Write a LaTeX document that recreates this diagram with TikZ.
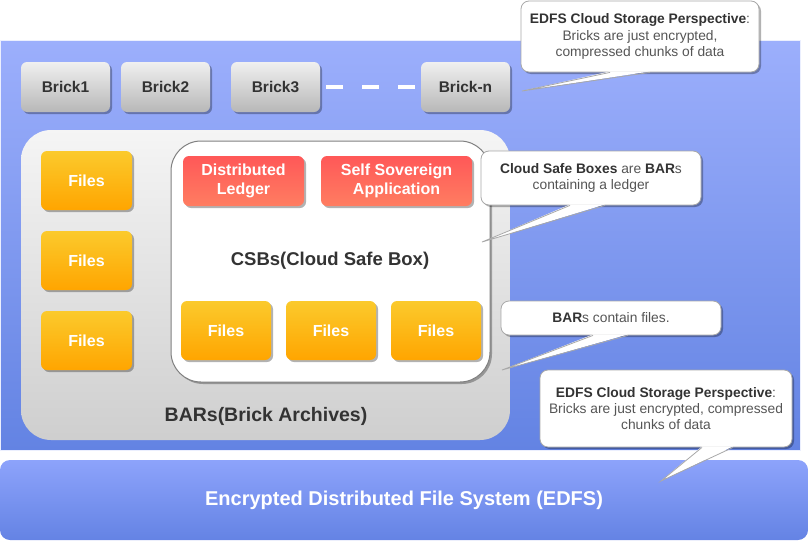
\documentclass[tikz,border=0pt]{standalone}
\usepackage{fontspec}
\setmainfont{Liberation Sans}
\usetikzlibrary{shadows}
\definecolor{bgtop}{HTML}{9CAFFC}
\definecolor{bgbot}{HTML}{6383E3}
\definecolor{edtop}{HTML}{8DA3FB}
\definecolor{edbot}{HTML}{6483E4}
\definecolor{txt}{HTML}{333333}
\definecolor{ctxt}{HTML}{555555}
\definecolor{filetop}{HTML}{FBCA2C}
\definecolor{filebot}{HTML}{FFA500}
\definecolor{redtop}{HTML}{FF5858}
\definecolor{redbot}{HTML}{FF7D61}
\definecolor{cborder}{HTML}{A8A8A8}
\tikzset{
  myshadow/.style={drop shadow={shadow xshift=2pt,shadow yshift=-2pt,fill=black,opacity=0.3}},
  brickbox/.style={rounded corners=6pt,top color=white!94!black,bottom color=white!72!black,
    minimum width=89pt,minimum height=50pt,inner sep=0pt,myshadow,
    font=\fontsize{15.5}{18}\selectfont\bfseries,text=txt},
  filebox/.style={rounded corners=6pt,top color=filetop,bottom color=filebot,
    minimum width=91pt,minimum height=59pt,inner sep=0pt,myshadow,
    font=\fontsize{16}{18}\selectfont\bfseries,text=white},
  redbox/.style={rounded corners=6pt,top color=redtop,bottom color=redbot,
    minimum height=50pt,inner sep=0pt,myshadow,align=center,
    font=\fontsize{16}{19}\selectfont\bfseries,text=white},
  callout/.style={rounded corners=8pt,fill=white,draw=cborder,line width=0.8pt,
    inner sep=0pt,align=center,text=ctxt,myshadow,
    font=\fontsize{13.8}{16.3}\selectfont},
  ptrfill/.style={fill=white},
  ptrline/.style={draw=cborder,line width=0.8pt},
}
\begin{document}
\begin{tikzpicture}[x=1pt,y=-1pt]
\useasboundingbox (0,0) rectangle (809,541);
% main blue background
\node[top color=bgtop,bottom color=bgbot,minimum width=800pt,minimum height=410pt,inner sep=0pt,
  draw=white!80!bgtop,line width=0.6pt] (bg) at (400,245) {};
% EDFS bar
\node[rounded corners=10pt,top color=edtop,bottom color=edbot,minimum width=808pt,minimum height=80pt,
  inner sep=0pt,text=white,font=\fontsize{20}{24}\selectfont\bfseries] (edfs) at (404,500)
  {Encrypted Distributed File System (EDFS)};
% bricks
\node[brickbox] (b1) at (65.5,87) {Brick1};
\node[brickbox] (b2) at (165.5,87) {Brick2};
\node[brickbox] (b3) at (275.5,87) {Brick3};
\node[brickbox] (bn) at (465.5,87) {Brick-n};
\draw[white,line width=4pt,dash pattern=on 17pt off 19pt,shorten <=6pt,shorten >=6pt] (b3.east) -- (bn.west);
% BARs box
\node[rounded corners=30pt,top color=white!96!black,bottom color=white!81!black,
  minimum width=489pt,minimum height=310pt,inner sep=0pt] (bars) at (265.5,285) {};
\node[font=\fontsize{19.5}{22}\selectfont\bfseries,text=txt] (barslabel) at (266,416) {BARs(Brick Archives)};
% left files
\node[filebox] (f1) at (86.5,180.5) {Files};
\node[filebox] (f2) at (86.5,260.5) {Files};
\node[filebox] (f3) at (86.5,340.5) {Files};
% CSB box
\node[rounded corners=30pt,fill=white,draw=black!50,line width=1pt,myshadow,
  minimum width=319pt,minimum height=241pt,inner sep=0pt] (csb) at (330.5,261.5) {};
\node[font=\fontsize{18.5}{22}\selectfont\bfseries,text=txt] (csblabel) at (330,261) {CSBs(Cloud Safe Box)};
\node[redbox,minimum width=121pt] (dl) at (243.5,181) {Distributed\\Ledger};
\node[redbox,minimum width=151pt] (ssa) at (396.5,181) {Self Sovereign\\Application};
\node[filebox,minimum width=90pt] (f4) at (226,330.5) {Files};
\node[filebox,minimum width=90pt] (f5) at (331,330.5) {Files};
\node[filebox,minimum width=90pt] (f6) at (436,330.5) {Files};
% callout 1
\node[callout,minimum width=238pt,minimum height=71pt] (c1) at (640,36.5)
  {\textcolor{txt}{\bfseries EDFS Cloud Storage Perspective}:\\Bricks are just encrypted,\\compressed chunks of data};
\coordinate (t1) at (522,91);
\fill[ptrfill] ([xshift=-30pt,yshift=1pt]c1.south) -- (t1) -- ([xshift=10pt,yshift=1pt]c1.south) -- cycle;
\draw[ptrline] ([xshift=-30pt]c1.south) -- (t1) -- ([xshift=10pt]c1.south);
% callout 2
\node[callout,minimum width=220pt,minimum height=54pt] (c2) at (591,178)
  {\textcolor{txt}{\bfseries Cloud Safe Boxes} are \textcolor{txt}{\bfseries BAR}s\\containing a ledger};
\coordinate (t2) at (482,242);
\fill[ptrfill] ([xshift=-21pt,yshift=1pt]c2.south) -- (t2) -- ([xshift=14pt,yshift=1pt]c2.south) -- cycle;
\draw[ptrline] ([xshift=-21pt]c2.south) -- (t2) -- ([xshift=14pt]c2.south);
% callout 3
\node[callout,minimum width=220pt,minimum height=34pt] (c3) at (611,318)
  {\textcolor{txt}{\bfseries BAR}s contain files.};
\coordinate (t3) at (502,370);
\fill[ptrfill] ([xshift=-18pt,yshift=1pt]c3.south) -- (t3) -- ([xshift=17pt,yshift=1pt]c3.south) -- cycle;
\draw[ptrline] ([xshift=-18pt]c3.south) -- (t3) -- ([xshift=17pt]c3.south);
% callout 4
\node[callout,minimum width=252pt,minimum height=77pt] (c4) at (666,408.5)
  {\textcolor{txt}{\bfseries EDFS Cloud Storage Perspective}:\\Bricks are just encrypted, compressed\\chunks of data};
\coordinate (t4) at (661,481);
\fill[ptrfill] ([xshift=36pt,yshift=1pt]c4.south) -- (t4) -- ([xshift=67pt,yshift=1pt]c4.south) -- cycle;
\draw[ptrline] ([xshift=36pt]c4.south) -- (t4) -- ([xshift=67pt]c4.south);
\end{tikzpicture}
\end{document}
